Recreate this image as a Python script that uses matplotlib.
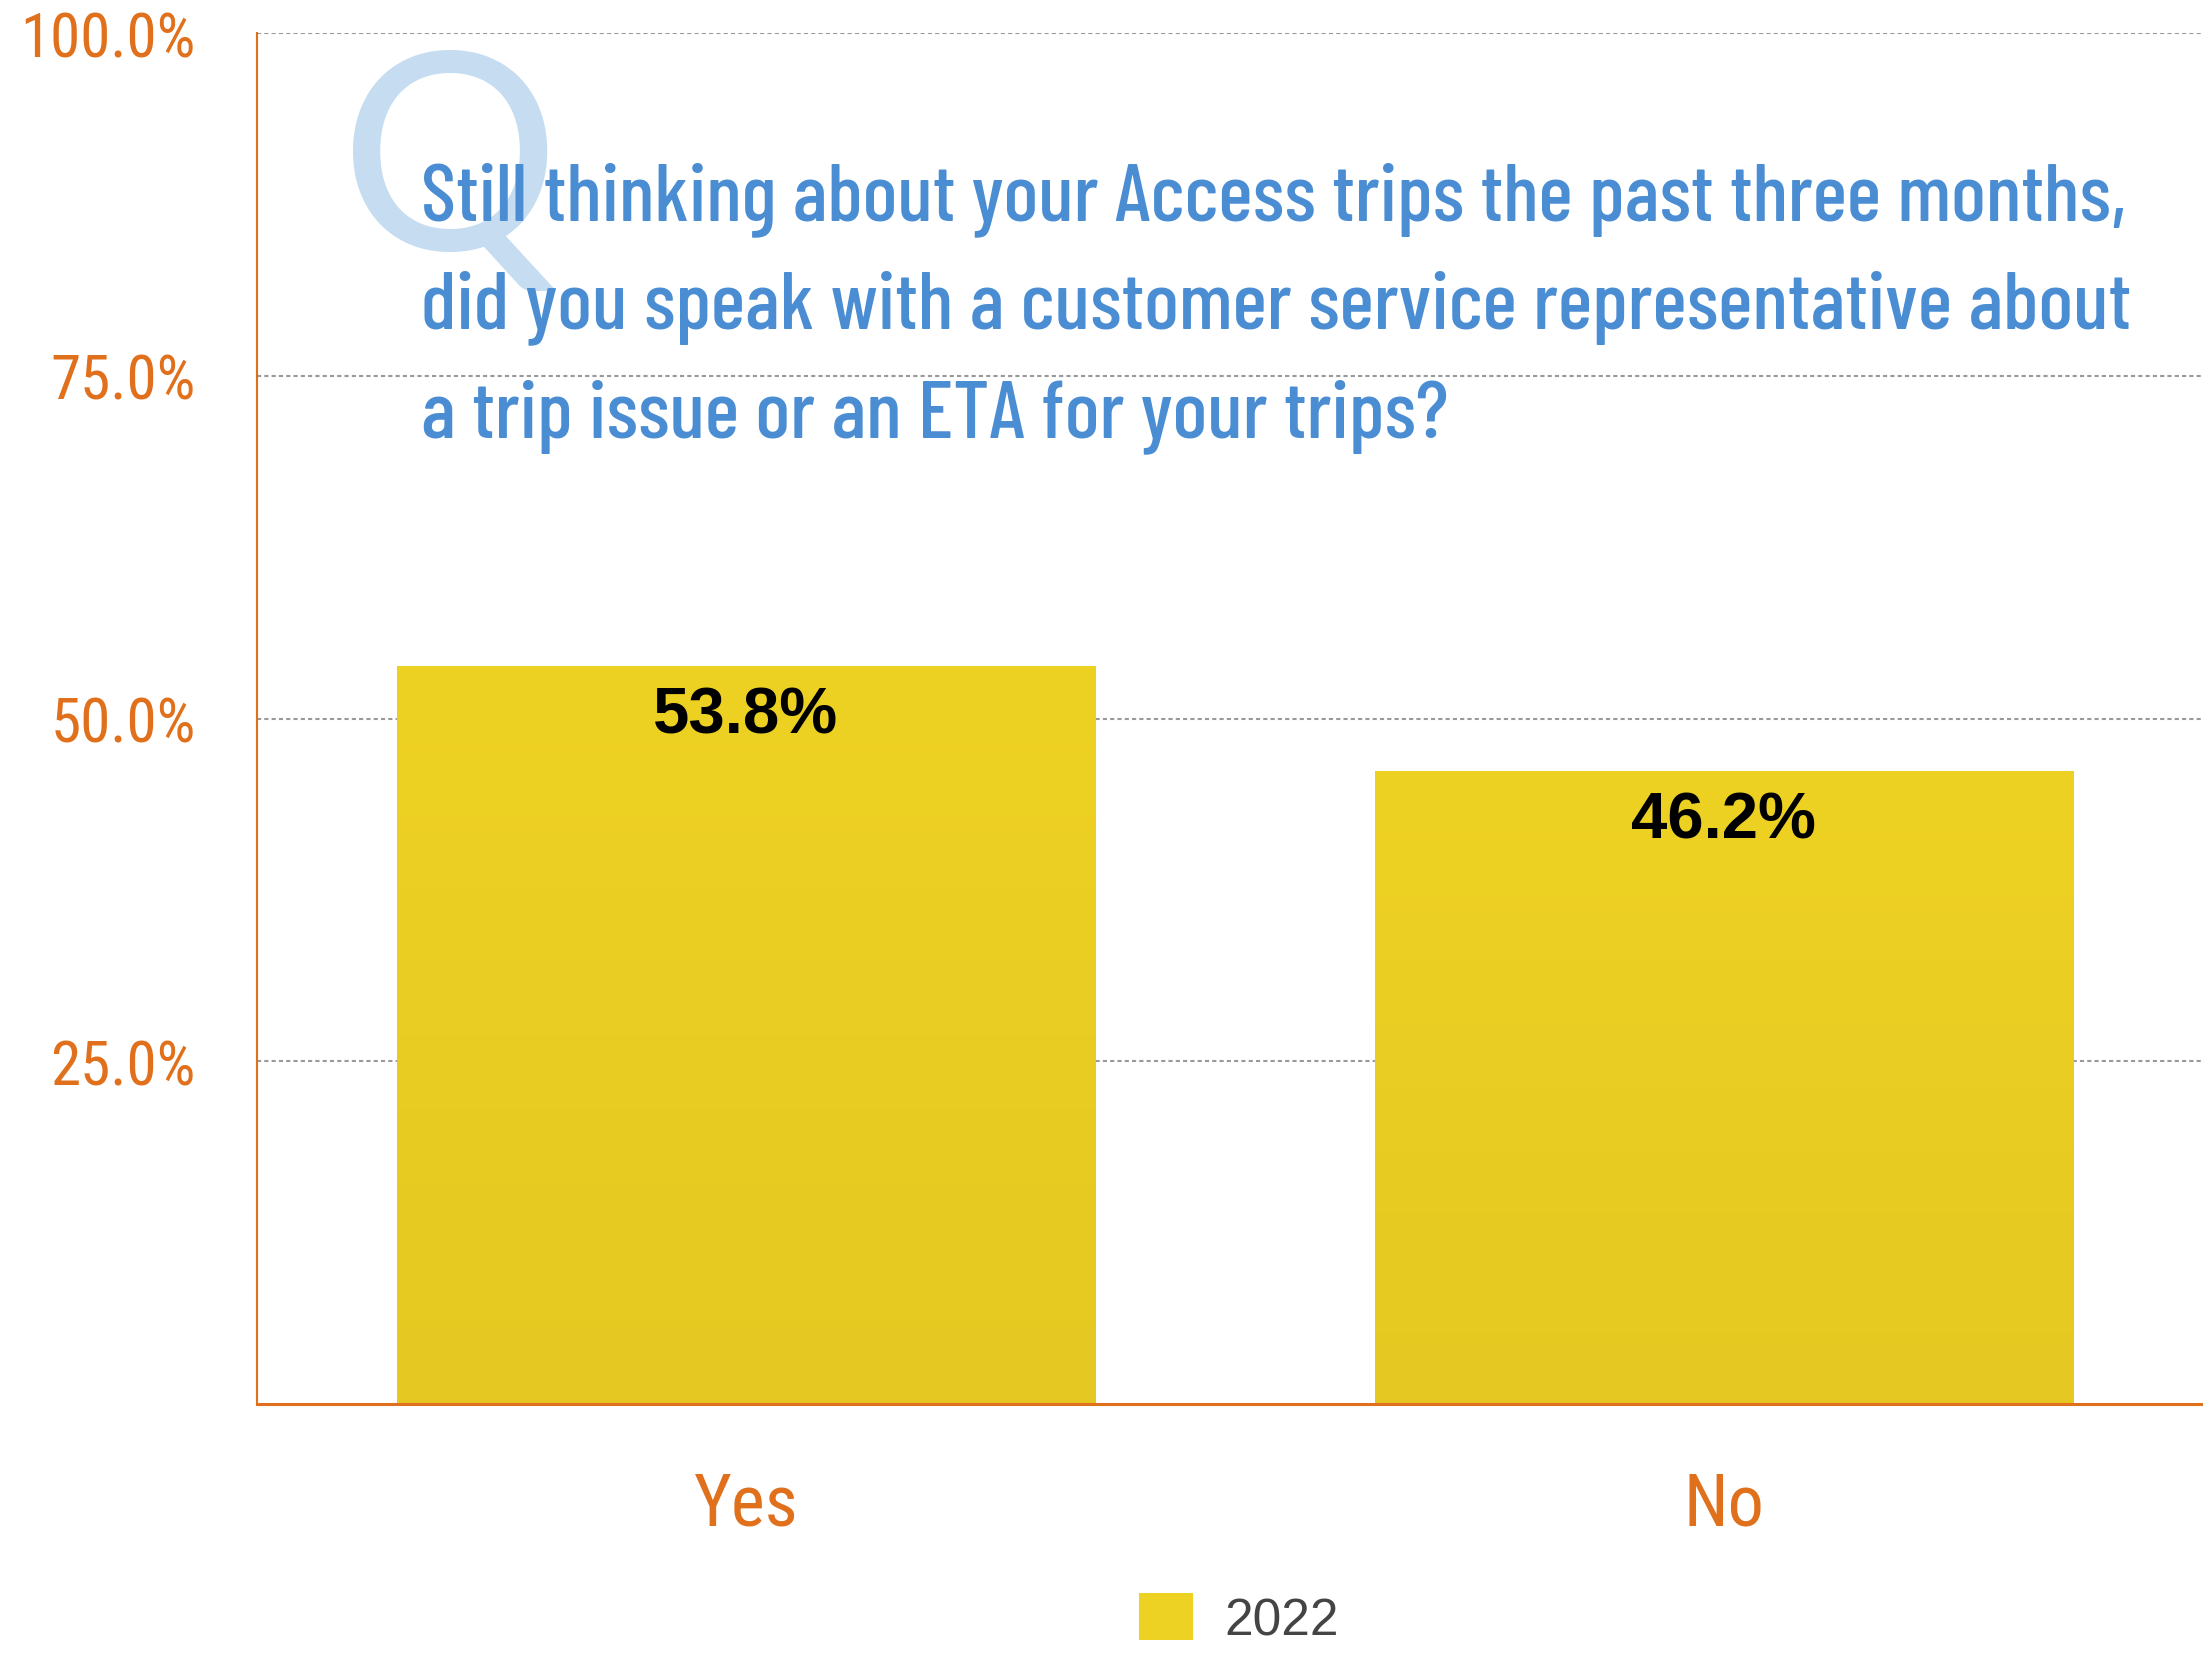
import numpy as np
import matplotlib
matplotlib.use("Agg")
import matplotlib.pyplot as plt
from matplotlib.colors import LinearSegmentedColormap

# Survey responses
categories = ["Yes", "No"]
values = [53.8, 46.2]
series_name = "2022"
y_ticks = [25, 50, 75, 100]
y_tick_labels = ["25.0%", "50.0%", "75.0%", "100.0%"]
question_lines = [
    "Still thinking about your Access trips the past three months,",
    "did you speak with a customer service representative about",
    "a trip issue or an ETA for your trips?",
]

ORANGE = "#E0701C"
BLUE = "#4A8DD3"
LIGHT_BLUE = "#C6DCF0"
BAR_TOP = "#EED223"
BAR_BOTTOM = "#E5C821"
NARROW = ["Roboto Condensed", "DejaVu Sans"]
HEADING = ["Barlow Condensed", "Roboto Condensed", "DejaVu Sans"]

W, H, DPI = 2203, 1656, 100
fig = plt.figure(figsize=(W / DPI, H / DPI), dpi=DPI)
ax = fig.add_axes([257 / W, 1 - 1405 / H, 1 - 257 / W, (1405 - 34) / H])

x = np.arange(len(categories))
bars = ax.bar(x, values, width=0.714, color=BAR_TOP, zorder=2, label=series_name)

# Subtle vertical gradient inside each bar
cmap = LinearSegmentedColormap.from_list("bar", [BAR_BOTTOM, BAR_TOP])
grad = np.linspace(0, 1, 256).reshape(-1, 1)
for b in bars:
    x0, y0 = b.get_x(), b.get_y()
    im = ax.imshow(grad, cmap=cmap, aspect="auto", origin="lower",
                   extent=[x0, x0 + b.get_width(), y0, y0 + b.get_height()],
                   zorder=2.1)
    im.set_clip_path(b)

for b, v in zip(bars, values):
    ax.annotate(f"{v:.1f}%", (b.get_x() + b.get_width() / 2, v),
                xytext=(0, -14), textcoords="offset points",
                ha="center", va="top", fontsize=47, fontweight="bold",
                family=["Liberation Sans", "DejaVu Sans"], color="black", zorder=3)

ax.set_xlim(-0.5, 1.49)
ax.set_ylim(0, 100)
ax.set_yticks(y_ticks)
ax.set_yticklabels(y_tick_labels)
ax.set_xticks(x)
ax.set_xticklabels(categories)
ax.tick_params(axis="y", length=0, pad=44, labelsize=44, labelcolor=ORANGE)
ax.tick_params(axis="x", length=0, pad=48, labelsize=52, labelcolor=ORANGE)
for lab in ax.get_yticklabels() + ax.get_xticklabels():
    lab.set_family(NARROW)

ax.grid(axis="y", color="#999999", linestyle=(0, (2, 1.5)), linewidth=1.5, zorder=0)
ax.set_axisbelow(True)
for s in ["top", "right"]:
    ax.spines[s].set_visible(False)
ax.spines["left"].set_color(ORANGE)
ax.spines["left"].set_linewidth(1.5)
ax.spines["bottom"].set_color(ORANGE)
ax.spines["bottom"].set_linewidth(2.2)
ax.spines["bottom"].set_zorder(4)

# Question heading with a large "Q" behind it
fig.text(340 / W, 1 - 250 / H, "Q", fontsize=198, color=LIGHT_BLUE,
         family=["Lato", "DejaVu Sans"], ha="left", va="baseline", zorder=1)
baselines = [220, 328, 437]
heading_texts = [
    fig.text(421 / W, 1 - yb / H, line, fontsize=62, color=BLUE,
             family=HEADING, fontweight=500, ha="left", va="baseline", zorder=2)
    for line, yb in zip(question_lines, baselines)
]
# Size the heading so its first line spans up to x = 2128 px
renderer = fig.canvas.get_renderer()
w0 = heading_texts[0].get_window_extent(renderer).width
size = min(64, 62 * (2128 - 421) / w0)
for t in heading_texts:
    t.set_fontsize(size)

leg = fig.legend(handles=[bars], labels=[series_name], loc="center",
                 bbox_to_anchor=(1239 / W, 1 - 1620 / H), frameon=False,
                 handlelength=1.04, handleheight=1.04, handletextpad=0.62,
                 prop={"family": ["Liberation Sans", "DejaVu Sans"], "size": 37})
for t in leg.get_texts():
    t.set_color("#444444")

fig.savefig("out.png", dpi=DPI)
